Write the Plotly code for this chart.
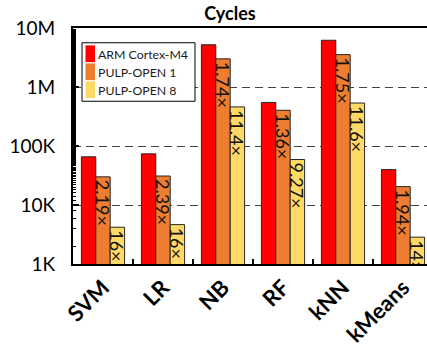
import plotly.graph_objects as go

categories = ["SVM", "LR", "NB", "RF", "kNN", "kMeans"]
series_names = ["ARM Cortex-M4", "PULP-OPEN 1", "PULP-OPEN 8"]
series_colors = ["#FF0000", "#ED7D31", "#FFD966"]
arm_m4 = [65600, 73600, 5200000, 547000, 6200000, 39800]
pulp_1 = [30000, 31000, 3000000, 403000, 3540000, 20500]
pulp_8 = [4200, 4650, 460000, 59000, 535000, 2850]
pulp_1_labels = ["2.19×", "2.39×", "1.74×", "1.36×", "1.75×", "1.94×"]
pulp_8_labels = ["16×", "16×", "11.4×", "9.27×", "11.6×", "14×"]
ytick_vals = [1e3, 1e4, 1e5, 1e6, 1e7]
ytick_text = ["1K", "10K", "100K", "1M", "10M"]

W, H = 427, 347
ML, MR, MT, MB = 73, 0, 28, 79
PW, PH = W - ML - MR, H - MT - MB

FONT = "Lato"
line = dict(color="#262626", width=1)
txtfont = dict(family=FONT, size=18, color="#111111")

series_vals = [arm_m4, pulp_1, pulp_8]
series_text = [None, pulp_1_labels, pulp_8_labels]

fig = go.Figure()
for name, color, vals, txt in zip(series_names, series_colors, series_vals, series_text):
    kw = {}
    if txt is not None:
        kw = dict(text=txt, textposition="inside", insidetextanchor="end", textangle=90,
                  constraintext="none", insidetextfont=txtfont)
    fig.add_trace(go.Bar(name=name, x=categories, y=vals,
                         marker=dict(color=color, line=line), showlegend=False, **kw))


def px_x(px):
    return (px - ML) / PW


def px_y(py):
    return (H - MB - py) / PH


# legend drawn as a boxed list in paper coordinates
shapes = [dict(type="rect", xref="paper", yref="paper",
               x0=px_x(82), x1=px_x(195), y0=px_y(102.5), y1=px_y(43),
               line=dict(color="black", width=1), fillcolor="white", layer="above")]
annotations = []
for i, (name, color) in enumerate(zip(series_names, series_colors)):
    top = 45.7 + i * 18.3
    shapes.append(dict(type="rect", xref="paper", yref="paper",
                       x0=px_x(85.5), x1=px_x(95), y0=px_y(top + 17), y1=px_y(top),
                       line=dict(width=0), fillcolor=color, layer="above"))
    annotations.append(dict(xref="paper", yref="paper", x=px_x(96), y=px_y(top + 8.8),
                            xanchor="left", yanchor="middle", text=name, showarrow=False,
                            font=dict(family=FONT, size=12.3, color="#1a1a1a")))

fig.update_layout(
    width=W, height=H,
    margin=dict(l=ML, r=MR, t=MT, b=MB),
    barmode="group", bargap=0.28, bargroupgap=0,
    plot_bgcolor="white", paper_bgcolor="white",
    font=dict(family=FONT, color="black"),
    title=dict(text="<b>Cycles</b>", x=230 / W, xanchor="center", y=1 - 14 / H, yanchor="middle",
               font=dict(size=18, family=FONT, color="black")),
    showlegend=False,
    shapes=shapes, annotations=annotations,
)
fig.update_xaxes(
    domain=[0, 1], range=[-0.5, 5.4],
    showline=True, linecolor="black", linewidth=2, mirror=True,
    ticks="inside", ticklen=5, tickcolor="black", tickwidth=1.5, tickson="boundaries",
    tickangle=-45, tickfont=dict(size=22, family=FONT, color="black", weight="bold"),
    showgrid=False,
)
fig.update_yaxes(
    type="log", range=[3, 7],
    tickvals=ytick_vals, ticktext=ytick_text,
    tickfont=dict(size=19, family=FONT, color="black"),
    ticklabelstandoff=12,
    showline=True, linecolor="black", linewidth=2,
    ticks="inside", ticklen=6, tickcolor="black", tickwidth=1.5,
    minor=dict(ticks="inside", ticklen=3, tickcolor="black", tickwidth=1, showgrid=False),
    showgrid=True, gridcolor="#444444", griddash="8px,5px", gridwidth=1.3,
    zeroline=False,
)
fig.write_html("out.html")
